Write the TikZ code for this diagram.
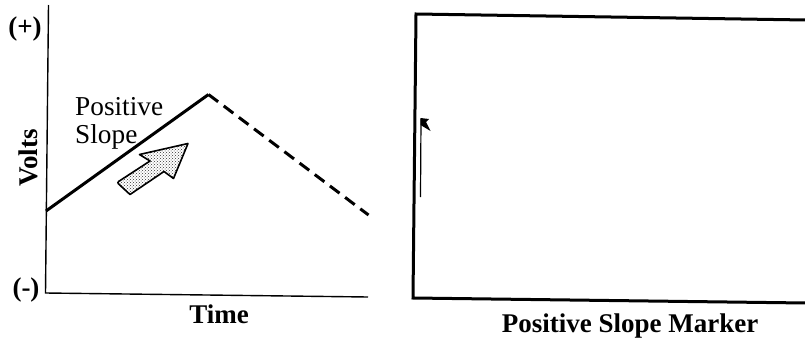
\documentclass[tikz,border=0pt]{standalone}
\usepackage{fontspec}
\setmainfont{Liberation Serif}
\usetikzlibrary{patterns}
\begin{document}
\begin{tikzpicture}[x=1pt,y=-1pt,
  lbl/.style={font=\fontsize{27}{29}\selectfont\bfseries, inner sep=0pt},
  txt/.style={font=\fontsize{27.3}{29}\selectfont, inner sep=0pt},
  axisline/.style={line width=1.4pt},
  graphline/.style={line width=3pt},
  frameline/.style={line width=3pt}]
\useasboundingbox (0,0) rectangle (805,340);
% axes
\coordinate (ytop) at (48.5,5);
\coordinate (orig) at (45.5,293);
\coordinate (xend) at (368,297);
\draw[axisline] (ytop) -- (orig) -- (xend);
% curve
\coordinate (start) at (46,211);
\coordinate (peak) at (208.5,94.5);
\coordinate (fin) at (368.5,215);
\draw[graphline, line join=miter] (start) -- (peak);
\draw[graphline, dash pattern=on 12pt off 7pt] (peak) -- (fin);
% labels
\node[lbl, anchor=base] (plus) at (25,35) {(+)};
\node[lbl, anchor=base] (minus) at (26,296) {(-)};
\node[lbl, rotate=90, anchor=base] (volts) at (37.5,158) {Volts};
\node[lbl, anchor=base] (time) at (219,323) {Time};
\node[txt, anchor=base west] (pos) at (75,115) {Positive};
\node[txt, anchor=base west] (slope) at (75,143) {Slope};
% fat arrow
\draw[line width=1.6pt, line join=round, pattern=crosshatch dots, pattern color=black!80]
  (117,182.5) -- (150,161) -- (139.5,154.5) -- (188,143.5) -- (173.5,178.5)
  -- (164,171.5) -- (130,194.5) [rounded corners=2pt] -- cycle;
% right panel frame
\coordinate (tr) at (806,20);
\coordinate (tl) at (416,14);
\coordinate (bl) at (413,298);
\coordinate (br) at (806,303);
\draw[frameline, line join=miter] (tr) -- (tl) -- (bl) -- (br);
% marker
\coordinate (mbot) at (420.5,197);
\coordinate (mtop) at (421,118.5);
\draw[line width=1.2pt] (mbot) -- (mtop);
\fill (420.5,118) -- (429,119) -- (426,122) -- (430.5,131) -- (420.5,125) -- cycle;
\node[lbl, anchor=base] (cap) at (630,332) {Positive Slope Marker};
\end{tikzpicture}
\end{document}
